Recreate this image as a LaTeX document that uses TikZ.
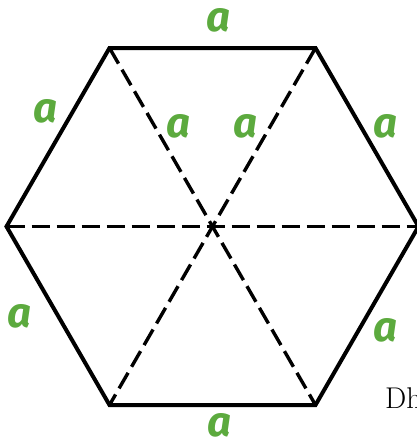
\documentclass[tikz,border=0pt]{standalone}
\usepackage{fontspec}
\newfontfamily\handfont{Fira Sans}
\definecolor{agreen}{RGB}{92,170,62}
\begin{document}
\begin{tikzpicture}[x=1pt,y=-1pt,
  side/.style={line width=4pt,line join=miter},
  diag/.style={line width=3.4pt,dash pattern=on 18pt off 7pt},
  lab/.style={text=agreen,font=\handfont\itshape\bfseries\fontsize{42}{42}\selectfont,inner sep=0pt}]
\useasboundingbox (0,0) rectangle (417,445);
\coordinate (O) at (212.5,226.5);
\coordinate (A) at (109.5,48);
\coordinate (B) at (315.5,48);
\coordinate (C) at (418.5,226.5);
\coordinate (D) at (315.5,405);
\coordinate (E) at (109.5,405);
\coordinate (F) at (6.5,226.5);
\draw[diag] (F) -- (C);
\draw[diag] (A) -- (D);
\draw[diag] (B) -- (E);
\draw[side] (A) -- (B) -- (C) -- (D) -- (E) -- (F) -- cycle;
\node[lab] (l1) at (219,20) {a};
\node[lab] (l2) at (46,111) {a};
\node[lab] (l3) at (179,126) {a};
\node[lab] (l4) at (246,126) {a};
\node[lab] (l5) at (386,126) {a};
\node[lab] (l6) at (20,316) {a};
\node[lab] (l7) at (386,330) {a};
\node[lab] (l8) at (220,425) {a};
\node[anchor=base west,inner sep=0pt,font=\fontsize{30}{30}\selectfont] (dh) at (385,408) {Dh};
\end{tikzpicture}
\end{document}
